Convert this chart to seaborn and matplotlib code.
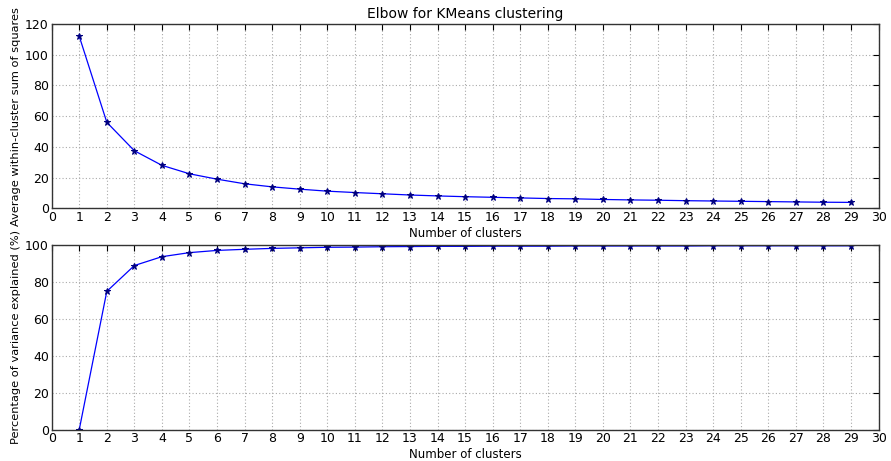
import matplotlib
matplotlib.use("Agg")
import matplotlib.pyplot as plt
import pandas as pd
import seaborn as sns

# values
n_clusters = list(range(1, 30))
avg_within_ss = [112.0, 56.0, 37.5, 28.0, 22.5, 19.0, 16.0, 14.0, 12.5, 11.2,
                 10.3, 9.5, 8.7, 8.1, 7.6, 7.2, 6.8, 6.4, 6.2, 5.8,
                 5.5, 5.3, 5.0, 4.8, 4.6, 4.4, 4.2, 4.0, 3.9]
pct_variance = [0.0, 75.0, 89.0, 93.8, 96.0, 97.2, 97.8, 98.3, 98.6, 98.9,
                99.0, 99.2, 99.3, 99.4, 99.4, 99.5, 99.5, 99.5, 99.6, 99.6,
                99.6, 99.6, 99.6, 99.7, 99.7, 99.7, 99.7, 99.7, 99.7]
x_ticks = list(range(0, 31))

df = pd.DataFrame({"k": n_clusters, "wss": avg_within_ss, "pct": pct_variance})

sns.set_style("white")
plt.rcParams["font.family"] = ["DejaVu Sans"]
plt.rcParams.update({
    "xtick.direction": "in",
    "ytick.direction": "in",
    "xtick.top": True,
    "ytick.right": True,
    "xtick.major.size": 4,
    "ytick.major.size": 4,
    "xtick.color": "black",
    "ytick.color": "black",
    "text.color": "black",
    "axes.labelcolor": "black",
    "axes.edgecolor": "#333333",
    "axes.linewidth": 1.0,
})

fig, (ax1, ax2) = plt.subplots(2, 1, figsize=(8.91, 4.61), dpi=100)
fig.subplots_adjust(left=0.058, right=0.986, top=0.948, bottom=0.068, hspace=0.2)

for ax, col, ylim, ylab in [
    (ax1, "wss", (0, 120), "Average within-cluster sum of squares"),
    (ax2, "pct", (0, 100), "Percentage of variance explained (%)"),
]:
    sns.lineplot(data=df, x="k", y=col, ax=ax, color="blue", linewidth=0.9,
                 marker="*", markersize=5, markerfacecolor="#000080",
                 markeredgecolor="#000080")
    ax.set_xlim(0, 30)
    ax.set_ylim(*ylim)
    ax.set_xticks(x_ticks)
    ax.set_xlabel("Number of clusters", fontsize=8.5, labelpad=2)
    ax.set_ylabel(ylab, fontsize=8.2, labelpad=3)
    ax.tick_params(labelsize=9, pad=2)
    ax.grid(True, linestyle=(0, (1, 2)), color="#aaaaaa", linewidth=0.8)

ax1.set_title("Elbow for KMeans clustering", fontsize=10, pad=4)

fig.savefig("out.png", dpi=100, facecolor="white")
